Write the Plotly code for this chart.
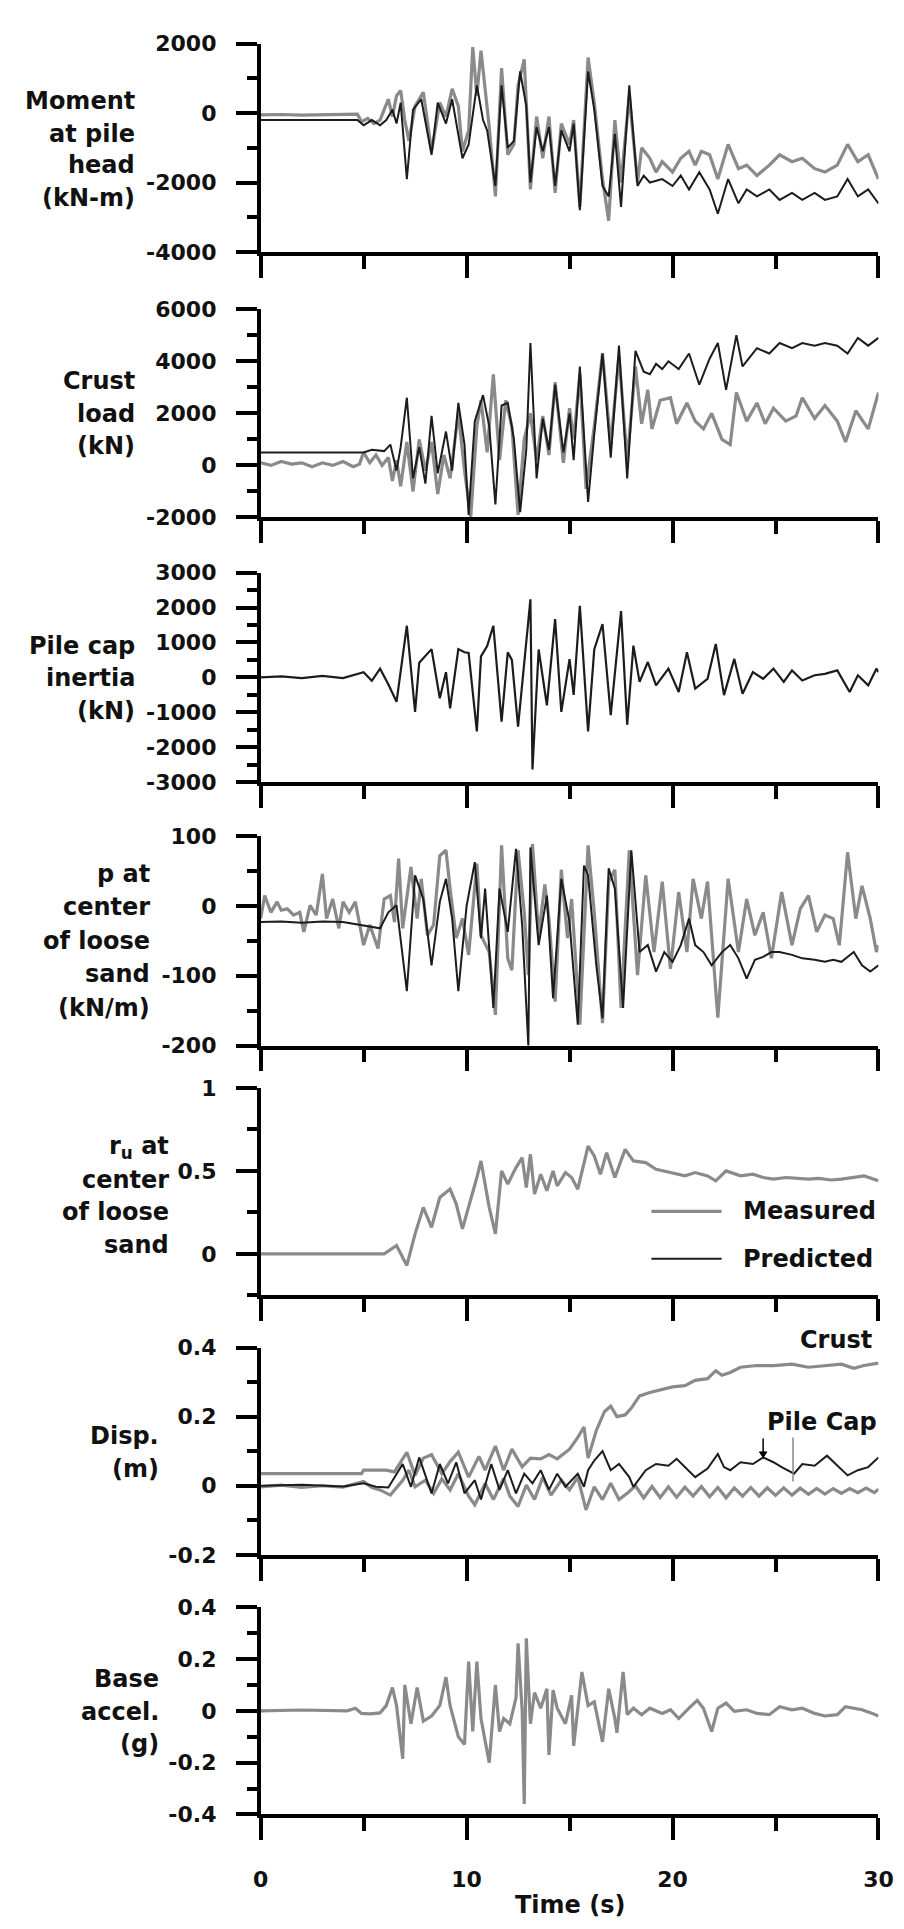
import plotly.graph_objects as go

# ---------------- DATA ----------------
# Panel 1: Moment at pile head (kN-m)
t_mom_meas = [0, 1.0, 2.0, 3.0, 4.0, 4.7, 4.9, 5.2, 5.5, 5.8,
              6.0, 6.2, 6.4, 6.6, 6.8, 7.0, 7.2, 7.5, 7.9, 8.3,
              8.7, 9.0, 9.3, 9.6, 9.8, 10.1, 10.3, 10.5, 10.7, 10.9,
              11.1, 11.4, 11.7, 12.0, 12.3, 12.5, 12.8, 13.1, 13.4, 13.7,
              14.0, 14.3, 14.6, 15.0, 15.2, 15.5, 15.9, 16.2, 16.6, 16.9,
              17.2, 17.5, 17.9, 18.3, 18.5, 18.9, 19.2, 19.5, 20.0, 20.4,
              20.8, 21.1, 21.4, 21.8, 22.2, 22.7, 23.2, 23.6, 24.1, 24.7,
              25.2, 25.8, 26.3, 26.9, 27.4, 28.0, 28.5, 29.0, 29.5, 30.0]
mom_meas = [-50, -40, -60, -50, -40, -30, -250, -150, -300, -200,
            100, 400, -100, 500, 650, -200, -800, 200, 600, -1100,
            300, -100, 700, 200, -1100, -500, 1900, 500, 1800, 700,
            -400, -2400, 1300, -1200, -900, 800, 1550, -2200, -100, -1300,
            -100, -2300, -300, -900, -200, -2700, 1600, 300, -1900, -3100,
            -200, -2000, 500, -2000, -1000, -1300, -1700, -1400, -1700, -1300,
            -1100, -1500, -1100, -1200, -1900, -900, -1600, -1500, -1800, -1500,
            -1200, -1400, -1300, -1600, -1700, -1500, -900, -1400, -1200, -1900]
t_mom_pred = [0, 4.7, 5.0, 5.4, 5.8, 6.1, 6.4, 6.6, 6.8, 7.1,
              7.4, 7.8, 8.3, 8.6, 9.0, 9.3, 9.8, 10.1, 10.5, 10.8,
              11.0, 11.4, 11.7, 12.0, 12.3, 12.6, 12.9, 13.1, 13.4, 13.7,
              14.0, 14.3, 14.6, 15.0, 15.2, 15.5, 15.9, 16.2, 16.6, 16.9,
              17.2, 17.5, 17.9, 18.3, 18.6, 18.9, 19.5, 20.0, 20.4, 20.6,
              20.8, 21.3, 21.8, 22.2, 22.7, 23.2, 23.6, 24.1, 24.7, 25.2,
              25.8, 26.3, 26.9, 27.4, 28.0, 28.5, 29.0, 29.5, 30.0]
mom_pred = [-200, -200, -350, -200, -350, -200, 100, -300, 300, -1900,
            100, 400, -1200, 300, -300, 400, -1300, -900, 800, -200,
            -500, -2100, 800, -1000, -800, 1200, 200, -2000, -400, -1100,
            -400, -2100, -500, -1100, -300, -2800, 1200, 100, -2100, -2400,
            -600, -2700, 800, -2100, -1800, -2000, -1900, -2100, -1800, -2000,
            -2200, -1700, -2200, -2900, -1900, -2600, -2200, -2400, -2200, -2500,
            -2300, -2500, -2300, -2500, -2400, -1900, -2400, -2200, -2600]

# Panel 2: Crust load (kN)
t_crust_meas = [0, 0.5, 1.0, 1.5, 2.0, 2.5, 3.0, 3.5, 4.0, 4.5,
                4.8, 5.0, 5.3, 5.6, 5.9, 6.2, 6.4, 6.6, 6.8, 7.1,
                7.4, 7.7, 8.0, 8.3, 8.6, 8.9, 9.2, 9.6, 9.9, 10.2,
                10.5, 10.7, 11.0, 11.3, 11.6, 11.9, 12.2, 12.5, 12.8, 13.1,
                13.4, 13.7, 14.0, 14.3, 14.7, 15.0, 15.2, 15.5, 15.8, 16.2,
                16.6, 17.0, 17.4, 17.8, 18.2, 18.5, 18.8, 19.0, 19.4, 19.9,
                20.2, 20.7, 21.1, 21.5, 21.9, 22.4, 22.8, 23.1, 23.6, 24.1,
                24.5, 24.9, 25.5, 26.0, 26.3, 26.9, 27.4, 28.0, 28.4, 28.9,
                29.5, 30.0]
crust_meas = [100, 0, 150, 50, 100, -50, 100, 0, 150, -50,
              50, 500, 100, 400, 0, 300, -600, 200, -800, 900,
              -1000, 1000, -200, 900, -1100, 400, -500, 2000, -200, -2000,
              1500, 2500, 500, 3500, 200, 2500, 1500, -1900, 1000, 2000,
              200, 1900, 400, 3200, 100, 2200, 1000, 3500, -900, 1500,
              4300, 800, 4200, 200, 3800, 1600, 2900, 1400, 2500, 2600,
              1600, 2400, 1700, 1400, 2000, 1000, 800, 2800, 1700, 2400,
              1600, 2200, 1700, 1900, 2600, 1800, 2300, 1700, 900, 2100,
              1400, 2800]
t_crust_pred = [0, 5.0, 5.4, 6.0, 6.3, 6.6, 6.8, 7.1, 7.4, 7.7,
                8.0, 8.3, 8.6, 9.0, 9.3, 9.6, 9.9, 10.1, 10.4, 10.8,
                11.1, 11.4, 11.7, 12.0, 12.3, 12.6, 12.9, 13.1, 13.4, 13.7,
                14.0, 14.3, 14.7, 15.0, 15.2, 15.5, 15.9, 16.2, 16.6, 17.0,
                17.4, 17.8, 18.2, 18.6, 18.9, 19.2, 19.5, 19.8, 20.3, 20.8,
                21.3, 21.8, 22.2, 22.6, 23.1, 23.4, 24.1, 24.7, 25.2, 25.8,
                26.3, 26.9, 27.4, 28.0, 28.5, 29.0, 29.5, 30.0]
crust_pred = [500, 500, 600, 550, 800, -200, 700, 2600, -500, 700,
              -700, 1900, -300, 1300, -200, 2400, 800, -1900, 1700, 2700,
              1500, -1500, 2300, 2400, 1000, -1800, 600, 4700, -500, 1800,
              600, 3100, 500, 2000, 200, 3800, -1400, 1200, 4300, 300,
              4600, -500, 4400, 3600, 3500, 3900, 3700, 4000, 3700, 4300,
              3100, 4100, 4700, 2900, 5000, 3800, 4500, 4300, 4700, 4500,
              4700, 4600, 4700, 4600, 4300, 4900, 4600, 4900]

# Panel 3: Pile cap inertia (kN)
t_inertia = [0, 1, 2, 3, 4, 5.0, 5.4, 5.8, 6.2, 6.6,
             7.1, 7.5, 7.7, 8.3, 8.7, 9.0, 9.2, 9.6, 9.9, 10.1,
             10.5, 10.7, 11.0, 11.3, 11.7, 12.0, 12.2, 12.5, 13.1, 13.2,
             13.5, 13.9, 14.3, 14.6, 15.0, 15.2, 15.5, 15.9, 16.2, 16.6,
             17.0, 17.5, 17.8, 18.1, 18.4, 18.8, 19.2, 19.8, 20.3, 20.7,
             21.1, 21.7, 22.1, 22.5, 23.0, 23.4, 23.9, 24.4, 24.9, 25.4,
             25.8, 26.3, 26.9, 27.4, 28.0, 28.6, 29.0, 29.5, 29.9, 30.0]
inertia = [0, 30, -20, 40, -20, 150, -100, 250, -200, -700,
           1480, -990, 420, 810, -600, 150, -890, 810, 720, 700,
           -1550, 600, 900, 1480, -1270, 720, 500, -1410, 2240, -2640,
           800, -800, 1670, -990, 520, -500, 2050, -1550, 800, 1530,
           -1080, 1900, -1360, 910, -130, 440, -230, 250, -420, 720,
           -320, -40, 960, -510, 530, -470, 150, -40, 250, -130,
           200, -90, 60, 100, 200, -420, 60, -230, 250, 150]

# Panel 4: p at center of loose sand (kN/m)
t_p_meas = [0, 0.2, 0.5, 0.8, 1.0, 1.3, 1.6, 1.9, 2.1, 2.4,
            2.7, 3.0, 3.2, 3.5, 3.8, 4.0, 4.3, 4.6, 5.0, 5.3,
            5.7, 6.0, 6.3, 6.5, 6.7, 6.9, 7.3, 7.6, 7.8, 8.1,
            8.4, 8.7, 9.0, 9.2, 9.5, 9.8, 10.1, 10.5, 10.7, 11.1,
            11.4, 11.7, 12.0, 12.2, 12.5, 12.8, 13.0, 13.2, 13.5, 13.8,
            14.0, 14.3, 14.6, 14.9, 15.1, 15.5, 15.9, 16.2, 16.6, 16.9,
            17.2, 17.5, 17.9, 18.3, 18.7, 19.1, 19.5, 19.9, 20.3, 20.7,
            21.0, 21.4, 21.7, 22.2, 22.7, 23.2, 23.6, 24.0, 24.4, 24.8,
            25.3, 25.8, 26.2, 26.6, 27.0, 27.4, 27.8, 28.1, 28.5, 28.9,
            29.2, 29.6, 29.9, 30.0]
p_meas = [-18, 15, -9, 6, -6, -4, -13, -9, -37, 1,
          -13, 46, -18, 10, -32, 6, -9, 6, -56, -27,
          -61, 10, 15, -23, 68, -32, 56, -18, 39, -42,
          -27, 72, 80, 25, -46, -18, -70, 61, -42, -66,
          -156, 87, -75, -92, 80, -9, -99, 89, -42, 31,
          -18, -137, 52, -46, 10, -170, 87, -9, -168, 35,
          52, -146, 80, -99, 44, -66, 35, -90, 20, -66,
          39, -18, 35, -160, 39, -66, 10, -42, -9, -75,
          20, -56, -4, 15, -37, -13, -18, -56, 77, -18,
          29, -18, -66, -56]
t_p_pred = [0, 1, 2, 3, 4, 5.0, 5.8, 6.2, 6.6, 7.1,
            7.5, 7.9, 8.3, 8.7, 9.0, 9.3, 9.6, 10.0, 10.4, 10.7,
            10.9, 11.3, 11.6, 12.0, 12.4, 12.7, 13.0, 13.1, 13.5, 13.9,
            14.2, 14.6, 15.0, 15.4, 15.7, 15.9, 16.3, 16.6, 16.9, 17.2,
            17.6, 18.0, 18.4, 18.8, 19.2, 19.6, 20.0, 20.4, 20.8, 21.1,
            21.5, 21.9, 22.4, 22.8, 23.2, 23.6, 24.0, 24.4, 24.8, 25.2,
            25.8, 26.3, 26.9, 27.4, 27.8, 28.2, 28.8, 29.2, 29.6, 30.0]
p_pred = [-23, -22, -24, -22, -23, -28, -32, -9, 1, -122,
          44, 10, -85, 6, 39, -18, -122, 0, 63, -46,
          25, -146, 25, -37, 82, -28, -201, 84, -56, 15,
          -132, 39, -23, -170, 58, 44, -85, -161, 54, 25,
          -146, 80, -66, -56, -94, -66, -80, -56, -18, -56,
          -66, -85, -66, -56, -75, -104, -77, -73, -66, -66,
          -70, -75, -77, -80, -77, -80, -66, -85, -94, -85]

# Panel 5: r_u at center of loose sand
t_ru = [0, 3, 6.0, 6.6, 7.1, 7.5, 7.9, 8.3, 8.7, 9.2,
        9.5, 9.8, 10.2, 10.5, 10.7, 11.1, 11.4, 11.7, 12.0, 12.4,
        12.7, 12.9, 13.1, 13.3, 13.6, 13.9, 14.2, 14.4, 14.8, 15.1,
        15.4, 15.7, 15.9, 16.2, 16.5, 16.8, 17.2, 17.7, 18.1, 18.7,
        19.2, 19.9, 20.6, 21.1, 21.7, 22.1, 22.6, 23.3, 23.9, 24.4,
        24.9, 25.5, 26.0, 26.6, 27.1, 27.7, 28.2, 28.8, 29.3, 30.0]
ru_meas = [0, 0, 0, 0.05, -0.07, 0.12, 0.28, 0.16, 0.34, 0.39,
           0.3, 0.15, 0.32, 0.46, 0.56, 0.28, 0.12, 0.5, 0.42, 0.52,
           0.58, 0.4, 0.6, 0.36, 0.48, 0.38, 0.5, 0.41, 0.49, 0.46,
           0.39, 0.54, 0.65, 0.59, 0.48, 0.61, 0.46, 0.63, 0.56, 0.55,
           0.51, 0.49, 0.47, 0.49, 0.47, 0.44, 0.5, 0.47, 0.48, 0.46,
           0.45, 0.46, 0.455, 0.45, 0.455, 0.445, 0.45, 0.46, 0.47, 0.44]

# Panel 6: Displacement (m)
t_disp_crust = [0, 4.9, 5.0, 6.1, 6.5, 7.1, 7.5, 7.9, 8.3, 8.8,
                9.2, 9.6, 10.1, 10.6, 10.9, 11.4, 11.8, 12.2, 12.7, 13.1,
                13.6, 14.0, 14.4, 15.0, 15.4, 15.7, 15.9, 16.3, 16.7, 17.0,
                17.3, 17.7, 18.0, 18.4, 18.9, 19.5, 20.0, 20.6, 21.1, 21.7,
                22.1, 22.4, 22.8, 23.3, 24.1, 24.9, 25.8, 26.6, 27.4, 28.2,
                28.8, 29.3, 30.0]
disp_crust_meas = [0.035, 0.035, 0.045, 0.045, 0.04, 0.097, 0.03, 0.08, 0.09, 0.035,
                   0.07, 0.097, 0.025, 0.085, 0.045, 0.115, 0.045, 0.106, 0.055, 0.08,
                   0.078, 0.09, 0.078, 0.106, 0.14, 0.17, 0.08, 0.16, 0.215, 0.23,
                   0.2, 0.205, 0.225, 0.26, 0.27, 0.28, 0.286, 0.29, 0.305, 0.31,
                   0.333, 0.32, 0.328, 0.343, 0.348, 0.348, 0.352, 0.343, 0.348, 0.352,
                   0.34, 0.348, 0.355]
t_disp_cap_meas = [0, 1, 2, 3, 4, 5.0, 5.4, 5.8, 6.3, 6.9,
                   7.2, 7.5, 8.0, 8.4, 8.8, 9.2, 9.6, 10.1, 10.4, 10.9,
                   11.3, 11.8, 12.1, 12.5, 12.9, 13.3, 13.7, 14.1, 14.6, 15.0,
                   15.4, 15.8, 16.2, 16.6, 17.0, 17.4, 17.8, 18.2, 18.6, 19.0,
                   19.4, 19.8, 20.2, 20.6, 21.0, 21.4, 21.8, 22.2, 22.6, 23.0,
                   23.4, 23.8, 24.2, 24.6, 25.0, 25.4, 25.8, 26.2, 26.6, 27.0,
                   27.4, 27.8, 28.2, 28.6, 29.0, 29.4, 29.8, 30.0]
disp_cap_meas = [-0.003, 0.002, -0.005, 0.0, -0.004, 0.012, -0.005, -0.012, -0.027, 0.016,
                 0.045, -0.003, 0.016, -0.022, 0.02, -0.012, 0.035, -0.03, -0.055, 0.007,
                 -0.04, 0.021, -0.03, -0.06, 0.002, -0.04, 0.025, -0.027, 0.016, -0.012,
                 0.025, -0.07, -0.003, -0.04, 0.007, -0.04, -0.022, 0.0, -0.035, -0.002,
                 -0.034, -0.003, -0.033, -0.004, -0.03, -0.002, -0.032, -0.005, -0.035, -0.006,
                 -0.03, -0.005, -0.03, -0.006, -0.028, -0.006, -0.027, -0.007, -0.025, -0.008,
                 -0.024, -0.008, -0.022, -0.008, -0.02, -0.007, -0.02, -0.01]
t_disp_cap_pred = [0, 2, 4, 5.0, 5.6, 6.2, 6.9, 7.3, 7.7, 8.3,
                   8.7, 9.1, 9.5, 9.9, 10.4, 10.7, 11.2, 11.6, 12.0, 12.4,
                   12.8, 13.2, 13.6, 14.0, 14.4, 14.8, 15.4, 15.7, 15.9, 16.2,
                   16.6, 17.0, 17.4, 17.9, 18.1, 18.7, 19.2, 19.8, 20.2, 20.6,
                   21.1, 21.7, 22.2, 22.5, 22.8, 23.3, 23.9, 24.4, 24.9, 25.3,
                   25.9, 26.3, 26.9, 27.5, 28.1, 28.5, 29.0, 29.5, 30.0]
disp_cap_pred = [0.0, 0.003, -0.002, 0.007, -0.003, -0.005, 0.063, -0.003, 0.082, -0.022,
                 0.063, 0.007, 0.068, -0.022, 0.016, -0.04, 0.063, -0.012, 0.045, -0.022,
                 0.035, 0.007, 0.045, -0.012, 0.035, -0.003, 0.035, -0.003, 0.045, 0.073,
                 0.1, 0.045, 0.063, 0.025, -0.003, 0.045, 0.063, 0.058, 0.078, 0.054,
                 0.025, 0.05, 0.092, 0.054, 0.045, 0.068, 0.063, 0.082, 0.068, 0.054,
                 0.035, 0.063, 0.058, 0.087, 0.054, 0.03, 0.045, 0.054, 0.082]

# Panel 7: Base acceleration (g)
t_accel = [0, 2, 4.2, 4.6, 4.9, 5.3, 5.8, 6.1, 6.4, 6.6,
           6.9, 7.0, 7.3, 7.6, 7.9, 8.3, 8.7, 9.0, 9.2, 9.6,
           9.9, 10.1, 10.3, 10.5, 10.7, 11.1, 11.4, 11.6, 11.8, 12.1,
           12.4, 12.5, 12.7, 12.8, 12.9, 13.1, 13.3, 13.6, 13.9, 14.0,
           14.2, 14.4, 14.8, 15.1, 15.2, 15.6, 15.9, 16.2, 16.6, 16.9,
           17.2, 17.3, 17.6, 17.8, 18.1, 18.5, 18.9, 19.5, 19.9, 20.3,
           20.8, 21.2, 21.5, 21.9, 22.2, 22.6, 23.0, 23.6, 24.1, 24.7,
           25.2, 25.8, 26.3, 26.9, 27.4, 28.0, 28.4, 28.8, 29.2, 29.7,
           30.0]
accel_meas = [0, 0.003, 0, 0.01, -0.01, -0.012, -0.008, 0.02, 0.09, 0.02,
              -0.185, 0.1, -0.05, 0.09, -0.04, -0.02, 0.02, 0.13, 0.02, -0.1,
              -0.13, 0.19, -0.08, 0.19, -0.03, -0.2, 0.1, -0.08, -0.03, -0.05,
              0.05, 0.26, 0.0, -0.36, 0.28, -0.05, 0.07, 0.01, 0.085, -0.17,
              0.08, 0.01, -0.05, 0.06, -0.135, 0.15, 0.02, 0.035, -0.12, 0.085,
              -0.03, -0.085, 0.15, -0.015, 0.01, -0.015, 0.01, -0.01, 0.004, -0.03,
              0.01, 0.04, 0.01, -0.08, 0.01, 0.03, -0.002, 0.004, -0.01, -0.015,
              0.016, 0.004, 0.01, -0.01, -0.02, -0.015, 0.016, 0.01, 0.004, -0.01,
              -0.02]

# Tick values / labels
time_ticks = [0, 10, 20, 30]
time_labels = ["0", "10", "20", "30"]
time_minor = [5, 15, 25]
mom_ticks = [-4000, -2000, 0, 2000]
mom_labels = ["-4000", "-2000", "0", "2000"]
mom_minor = [-3000, -1000, 1000]
crust_ticks = [-2000, 0, 2000, 4000, 6000]
crust_labels = ["-2000", "0", "2000", "4000", "6000"]
crust_minor = [-1000, 1000, 3000, 5000]
inertia_ticks = [-3000, -2000, -1000, 0, 1000, 2000, 3000]
inertia_labels = ["-3000", "-2000", "-1000", "0", "1000", "2000", "3000"]
inertia_minor = [-2500, -1500, -500, 500, 1500, 2500]
p_ticks = [-200, -100, 0, 100]
p_labels = ["-200", "-100", "0", "100"]
p_minor = [-150, -50, 50]
ru_ticks = [0, 0.5, 1]
ru_labels = ["0", "0.5", "1"]
ru_minor = [-0.25, 0.25, 0.75]
disp_ticks = [-0.2, 0, 0.2, 0.4]
disp_labels = ["-0.2", "0", "0.2", "0.4"]
disp_minor = [-0.1, 0.1, 0.3]
accel_ticks = [-0.4, -0.2, 0, 0.2, 0.4]
accel_labels = ["-0.4", "-0.2", "0", "0.2", "0.4"]
accel_minor = [-0.3, -0.1, 0.1, 0.3]

pairs = [(t_mom_meas, mom_meas), (t_mom_pred, mom_pred), (t_crust_meas, crust_meas),
         (t_crust_pred, crust_pred), (t_inertia, inertia), (t_p_meas, p_meas),
         (t_p_pred, p_pred), (t_ru, ru_meas), (t_disp_crust, disp_crust_meas),
         (t_disp_cap_meas, disp_cap_meas), (t_disp_cap_pred, disp_cap_pred),
         (t_accel, accel_meas)]
for i, (a, b) in enumerate(pairs):
    assert len(a) == len(b), (i, len(a), len(b))

# ---------------- LAYOUT ----------------
W, H = 904, 1929
PL, PR = 251, 885
PANELS = [(24, 235), (293, 504), (560, 772), (827, 1039), (1082, 1292), (1345, 1555), (1608, 1818)]
GRAY = "#8a8a8a"
BLACK = "#1c1c1c"
FONT = "DejaVu Sans"
TICKFONT = dict(family=FONT, size=22, color="#111111", weight="bold")
TITLEFONT = dict(family=FONT, size=24, color="#111111", weight="bold")

fig = go.Figure()

def ax(k, kind):
    return kind if k == 1 else f"{kind}{k}"

traces = [
    (1, t_mom_meas, mom_meas, GRAY, 3.2),
    (1, t_mom_pred, mom_pred, BLACK, 2.0),
    (2, t_crust_meas, crust_meas, GRAY, 3.2),
    (2, t_crust_pred, crust_pred, BLACK, 2.0),
    (3, t_inertia, inertia, BLACK, 2.2),
    (4, t_p_meas, p_meas, GRAY, 3.2),
    (4, t_p_pred, p_pred, BLACK, 2.0),
    (5, t_ru, ru_meas, GRAY, 3.2),
    (6, t_disp_crust, disp_crust_meas, GRAY, 3.2),
    (6, t_disp_cap_meas, disp_cap_meas, GRAY, 3.2),
    (6, t_disp_cap_pred, disp_cap_pred, BLACK, 2.0),
    (7, t_accel, accel_meas, GRAY, 3.2),
]
for k, t, v, c, w in traces:
    fig.add_trace(go.Scatter(x=t, y=v, mode="lines", line=dict(color=c, width=w),
                             xaxis=ax(k, "x"), yaxis=ax(k, "y"),
                             showlegend=False, hoverinfo="skip"))

yspecs = [
    ([-4000, 2000], mom_ticks, mom_labels, mom_minor),
    ([-2000, 6000], crust_ticks, crust_labels, crust_minor),
    ([-3000, 3000], inertia_ticks, inertia_labels, inertia_minor),
    ([-200, 100], p_ticks, p_labels, p_minor),
    ([-0.25, 1], ru_ticks, ru_labels, ru_minor),
    ([-0.2, 0.4], disp_ticks, disp_labels, disp_minor),
    ([-0.4, 0.4], accel_ticks, accel_labels, accel_minor),
]

layout = dict(width=W, height=H, margin=dict(l=0, r=0, t=0, b=0),
              plot_bgcolor="white", paper_bgcolor="white", showlegend=False)
for k in range(1, 8):
    top, bot = PANELS[k - 1]
    yr, tv, tt, mv = yspecs[k - 1]
    layout["xaxis" if k == 1 else f"xaxis{k}"] = dict(
        domain=[PL / W, PR / W], anchor=ax(k, "y"), range=[0, 30],
        showline=True, linecolor="black", linewidth=3.5,
        ticks="outside", ticklen=22, tickwidth=3.5, tickcolor="black",
        tickvals=time_ticks, ticktext=time_labels,
        showticklabels=(k == 7), tickfont=TICKFONT, ticklabelstandoff=20,
        minor=dict(tickvals=time_minor, ticks="outside", ticklen=13, tickwidth=3.5, tickcolor="black"),
        showgrid=False, zeroline=False, fixedrange=True)
    layout["yaxis" if k == 1 else f"yaxis{k}"] = dict(
        domain=[1 - bot / H, 1 - top / H], anchor=ax(k, "x"), range=yr,
        showline=True, linecolor="black", linewidth=3.5,
        ticks="outside", ticklen=21, tickwidth=3.5, tickcolor="black",
        tickvals=tv, ticktext=tt, tickfont=TICKFONT, ticklabelstandoff=15,
        minor=dict(tickvals=mv, ticks="outside", ticklen=10, tickwidth=3.5, tickcolor="black"),
        showgrid=False, zeroline=False, fixedrange=True)
fig.update_layout(**layout)

titles = [
    (["Moment", "at pile", "head", "(kN-m)"], 124, [82, 115, 147, 180]),
    (["Crust", "load", "(kN)"], 124, [366, 399, 432]),
    (["Pile cap", "inertia", "(kN)"], 124, [634, 667, 700]),
    (["p at", "center", "of loose", "sand", "(kN/m)"], 140, [865, 899, 933, 967, 1001]),
    (["r<sub>u</sub> at", "center", "of loose", "sand"], 159, [1142, 1175, 1208, 1241]),
    (["Disp.", "(m)"], 149, [1435, 1468]),
    (["Base", "accel.", "(g)"], 149, [1681, 1714, 1747]),
]
for lines, xr, ys in titles:
    for txt, yc in zip(lines, ys):
        fig.add_annotation(text=txt, xref="paper", yref="paper", x=xr / W, y=1 - yc / H,
                           xanchor="right", yanchor="middle", showarrow=False, font=TITLEFONT)

# x-axis title
fig.add_annotation(text="Time (s)", xref="paper", yref="paper", x=568 / W, y=1 - 1910 / H,
                   xanchor="center", yanchor="middle", showarrow=False, font=TITLEFONT)

# legend (panel 5)
LEGFONT = dict(family=FONT, size=24, color="#111111", weight="bold")
for name, col, wid, yc in [("Measured", GRAY, 3.2, 1207), ("Predicted", BLACK, 2.0, 1255)]:
    fig.add_shape(type="line", xref="paper", yref="paper", x0=652 / W, x1=724 / W,
                  y0=1 - yc / H, y1=1 - yc / H, line=dict(color=col, width=wid))
    fig.add_annotation(text=name, xref="paper", yref="paper", x=744 / W, y=1 - yc / H,
                       xanchor="left", yanchor="middle", showarrow=False, font=LEGFONT)

# labels in displacement panel
fig.add_annotation(text="Crust", xref="paper", yref="paper", x=880 / W, y=1 - 1337 / H,
                   xanchor="right", yanchor="middle", showarrow=False, font=LEGFONT)
fig.add_annotation(text="Pile Cap", xref="paper", yref="paper", x=886 / W, y=1 - 1420 / H,
                   xanchor="right", yanchor="middle", showarrow=False, font=LEGFONT)
# arrow to predicted pile cap (black) and pointer line (gray)
fig.add_shape(type="line", xref="x6", yref="y6", x0=24.4, x1=24.4, y0=0.137, y1=0.095,
              line=dict(color="black", width=1.5))
fig.add_shape(type="path", xref="x6", yref="y6",
              path="M 24.22 0.098 L 24.58 0.098 L 24.4 0.082 Z",
              fillcolor="black", line=dict(color="black", width=1))
fig.add_shape(type="line", xref="x6", yref="y6", x0=25.85, x1=25.85, y0=0.14, y1=0.012,
              line=dict(color=GRAY, width=1.5))

fig.write_html("out.html")
